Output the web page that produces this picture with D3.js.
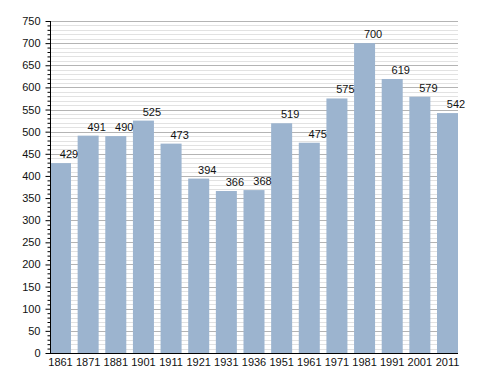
<!DOCTYPE html>
<html>
<head>
<meta charset="utf-8">
<script src="https://cdn.jsdelivr.net/npm/d3@7"></script>
<style>
  html, body { margin: 0; padding: 0; background: #fff; }
  svg { display: block; font-family: "Liberation Sans", Arial, sans-serif; }
</style>
</head>
<body>
<svg id="chart" width="488" height="373"></svg>
<script>
const years = ["1861","1871","1881","1901","1911","1921","1931","1936","1951","1961","1971","1981","1991","2001","2011"];
const population = [429,491,490,525,473,394,366,368,519,475,575,700,619,579,542];
const yMajorTicks = [0,50,100,150,200,250,300,350,400,450,500,550,600,650,700,750];

(function () {
const svg = d3.select("#chart");
const mLeft = 50, mRight = 458, mTop = 21, mBottom = 353;

const x = d3.scaleBand().domain(years).range([mLeft, mRight]).paddingInner(0.24).paddingOuter(0);
const y = d3.scaleLinear().domain([0, 750]).range([mBottom, mTop]);

const minorTicks = d3.range(0, 751, 10).filter(v => v % 50 !== 0);

// minor gridlines
svg.append("g").selectAll("line").data(minorTicks).join("line")
  .attr("x1", mLeft).attr("x2", mRight)
  .attr("y1", d => Math.round(y(d)) + 0.5).attr("y2", d => Math.round(y(d)) + 0.5)
  .attr("stroke", "#e2e2e2").attr("stroke-width", 1);

// major gridlines
svg.append("g").selectAll("line").data(yMajorTicks.filter(d => d > 0)).join("line")
  .attr("x1", mLeft).attr("x2", mRight)
  .attr("y1", d => Math.round(y(d)) + 0.5).attr("y2", d => Math.round(y(d)) + 0.5)
  .attr("stroke", "#b4b4b4").attr("stroke-width", 1);

// bars
svg.append("g").selectAll("rect").data(population).join("rect")
  .attr("x", (d, i) => x(years[i]))
  .attr("width", x.bandwidth())
  .attr("y", d => y(d))
  .attr("height", d => y(0) - y(d))
  .attr("fill", "#9cb4cf");

// value labels
svg.append("g").selectAll("text").data(population).join("text")
  .attr("x", (d, i) => x(years[i]) + x.bandwidth() / 2 + 8.5)
  .attr("y", d => y(d) - 5)
  .attr("text-anchor", "middle")
  .attr("font-size", 11)
  .attr("fill", "#111")
  .text(d => d);

// y axis with major ticks
const yAxis = d3.axisLeft(y).tickValues(yMajorTicks).tickSize(5).tickPadding(5);
const gy = svg.append("g").attr("transform", `translate(${mLeft + 0.5},0)`).call(yAxis);
gy.select(".domain").attr("stroke", "#000").attr("d", `M0,${mTop}V${mBottom}`);
gy.selectAll(".tick line").attr("stroke", "#000");
gy.selectAll(".tick text").attr("font-size", 11).attr("fill", "#111").attr("font-family", "Liberation Sans, Arial, sans-serif");

// minor ticks
const yMinor = d3.axisLeft(y).tickValues(minorTicks).tickSize(3).tickFormat("");
const gm = svg.append("g").attr("transform", `translate(${mLeft + 0.5},0)`).call(yMinor);
gm.select(".domain").remove();
gm.selectAll(".tick line").attr("stroke", "#000");

// x axis
const xAxis = d3.axisBottom(x).tickSize(0).tickPadding(5);
const gx = svg.append("g").attr("transform", `translate(0,${mBottom + 0.5})`).call(xAxis);
gx.select(".domain").attr("stroke", "#000").attr("d", `M${mLeft},0H${mRight}`);
gx.selectAll(".tick text").attr("font-size", 11).attr("fill", "#111").attr("font-family", "Liberation Sans, Arial, sans-serif");
})();
</script>
</body>
</html>
